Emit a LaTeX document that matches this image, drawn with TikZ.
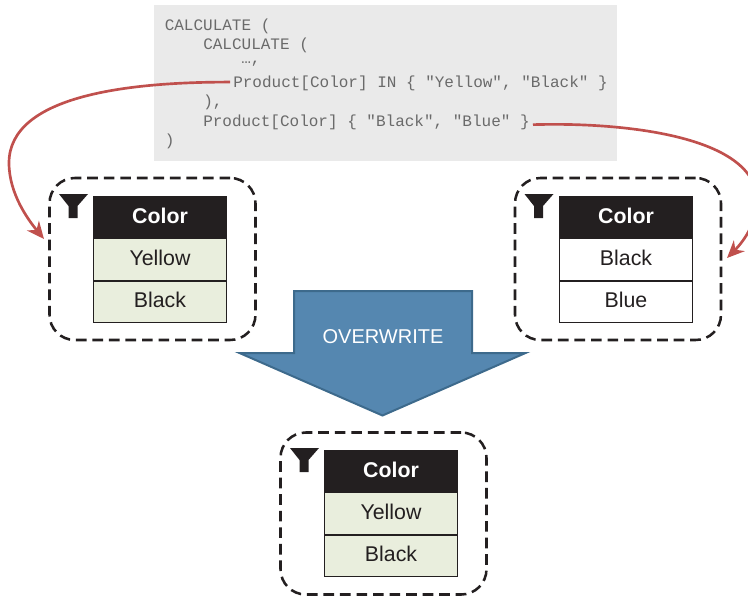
\documentclass[tikz,border=0pt]{standalone}
\usepackage{xcolor}
\usepackage{fontspec}
\setmainfont{Liberation Sans}
\setmonofont{Liberation Mono}
\usetikzlibrary{arrows.meta}
\usetikzlibrary{matrix}
\definecolor{codegray}{HTML}{EAEAEA}
\definecolor{codetext}{HTML}{6A6A6A}
\definecolor{selgreen}{HTML}{E9EEDD}
\definecolor{linkred}{HTML}{C0504D}
\definecolor{arrowblue}{HTML}{5587B0}
\definecolor{arrowedge}{HTML}{3D6A8C}
\definecolor{headblack}{HTML}{231F20}
\tikzset{
    codeline/.style={anchor=west, inner sep=2.25pt, text=codetext,
        font=\ttfamily\fontsize{12}{14}\selectfont},
    filterframe/.style={draw=headblack, line width=1.9pt, rounded corners=19pt,
        dash pattern=on 8pt off 4.4pt, minimum width=154.5pt, minimum height=121.5pt},
    filtertable/.style={matrix of nodes,
        nodes={draw=headblack, line width=0.65pt, outer sep=0pt, inner sep=0pt,
            minimum width=100pt, minimum height=30.9pt, anchor=center, text depth=2.4pt,
            font=\fontsize{16}{19}\selectfont, text=headblack},
        row 1/.style={nodes={fill=headblack, text=white,
            font=\fontsize{16}{19}\selectfont\bfseries}}},
    kept/.style={nodes={fill=selgreen}},
    link/.style={draw=linkred, line width=2pt, -{Stealth[length=13pt,width=11.5pt]}},
    funnel/.pic={
        \fill[headblack] (0,0) -- (29,0) -- (18.5,12) -- (18.5,24) -- (9.5,24) -- (9.5,12) -- cycle;
    },
}
\begin{document}
\begin{tikzpicture}[x=0.75pt,y=-0.75pt]
    \useasboundingbox (0,0) rectangle (748,596);
    \fill[codegray] (154,5) rectangle (617,161);
    \node[codeline] (line1) at (161.5,26) {CALCULATE (};
    \node[codeline] (line2) at (200,45) {CALCULATE (};
    \node[codeline] (line3) at (238,64) {…,};
    \node[codeline] (line4) at (230,83) {Product[Color] IN \{ "Yellow", "Black" \}};
    \node[codeline] (line5) at (200,102) {),};
    \node[codeline] (line6) at (200,122) {Product[Color] \{ "Black", "Blue" \}};
    \node[codeline] (line7) at (161.5,141) {)};

    \node[filterframe] (frameA) at (152.5,259) {};
    \node[filterframe] (frameB) at (618,259) {};
    \node[filterframe] (frameC) at (383.5,513.5) {};

    \matrix (tableA) [filtertable, kept] at (160,259.5)
    {
      Color \\
      Yellow \\
      Black \\
    };
    \matrix (tableB) [filtertable] at (626,259.5)
    {
      Color \\
      Black \\
      Blue \\
    };
    \matrix (tableC) [filtertable, kept] at (391,513.5)
    {
      Color \\
      Yellow \\
      Black \\
    };

    \pic at (59,194) {funnel};
    \pic at (524.5,194) {funnel};
    \pic at (290,448) {funnel};

    \draw[fill=arrowblue, draw=arrowedge, line width=1.5pt, line join=miter]
        (294,291) -- (472,291) -- (472,353) -- (525.5,353) -- (382.5,415.5) -- (239.5,353) -- (294,353) -- cycle;
    \node[text=white, font=\fontsize{15}{18}\selectfont] (overwrite) at (383,337) {OVERWRITE};

    \coordinate (tipA) at (44,239);
    \coordinate (tipB) at (727,258);
    \draw[link] ([yshift=0.7pt]line4.west) .. controls (130,82) and (9,95) .. (9,163)
        .. controls (9,195) and (30,222) .. (tipA);
    \draw[link] ([yshift=-2pt]line6.east) .. controls (620,122) and (756,135) .. (757,200)
        .. controls (757,225) and (741,244) .. (tipB);
\end{tikzpicture}
\end{document}
